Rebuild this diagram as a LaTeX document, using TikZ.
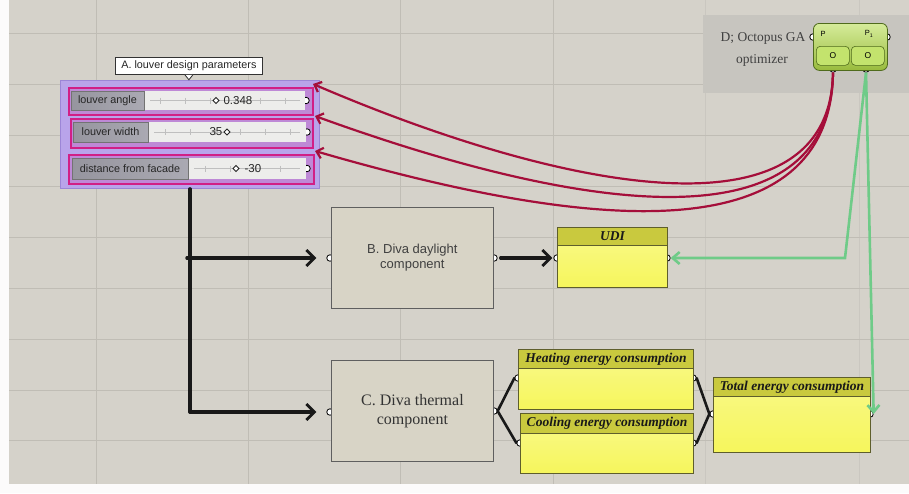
\documentclass[tikz,border=0pt]{standalone}
\usepackage{fontspec}
\setmainfont{Liberation Serif}
\setsansfont{Liberation Sans}
\usetikzlibrary{arrows.meta,calc}
\definecolor{bgc}{HTML}{D5D2CA}
\definecolor{gridc}{HTML}{C0BDB5}
\definecolor{grpAc}{HTML}{B9A4EA}
\definecolor{grpAline}{HTML}{9C86D6}
\definecolor{magA}{HTML}{D11F86}
\definecolor{lblc}{HTML}{A3A2AC}
\definecolor{trk}{HTML}{EDEDEB}
\definecolor{grpDc}{HTML}{C7C5BF}
\definecolor{octoc}{HTML}{B4DC48}
\definecolor{octoline}{HTML}{4F6B1C}
\definecolor{redw}{HTML}{A50E3A}
\definecolor{greenw}{HTML}{6FCB88}
\definecolor{hdrc}{HTML}{C9C93E}
\definecolor{pbody}{HTML}{F6F65C}
\definecolor{pline}{HTML}{5E5E2C}
\definecolor{boxc}{HTML}{D8D4C6}
\definecolor{boxline}{HTML}{5F5F5F}
\begin{document}
\begin{tikzpicture}[x=1pt,y=-1pt,
  port/.style={circle,draw=black,fill=white,line width=0.8pt,minimum size=6.5pt,inner sep=0pt},
  sliderbox/.style={draw=magA,line width=1.8pt,fill=grpAc!80!magA,anchor=north west,inner sep=0pt},
  lblbox/.style={left color=lblc!92!black,right color=lblc!92!white,draw=black!55,line width=0.5pt},
  lbl/.style={font=\sffamily\fontsize{10.8}{12}\selectfont,text=black!85},
  val/.style={font=\sffamily\fontsize{11.5}{12}\selectfont,text=black!85},
  grip/.style={draw=black!85,line width=1pt,fill=white},
  comp/.style={draw=boxline,line width=0.8pt,fill=boxc,anchor=north west,inner sep=0pt},
  phead/.style={draw=pline,line width=1pt,fill=hdrc,anchor=north west,inner sep=0pt,font=\bfseries\itshape\fontsize{13.5}{14}\selectfont,text=black!90},
  pbodyst/.style={draw=pline,line width=1pt,top color=pbody!80!white,bottom color=pbody,anchor=north west,inner sep=0pt},
  blk/.style={line width=3.2pt,black!90,line cap=round},
  blkarrow/.style={blk,-{Straight Barb[length=8pt,width=16pt,line width=2.8pt]}},
  thinw/.style={line width=2.6pt,black!90,line cap=round},
  redwire/.style={redw,line width=2.2pt,-{Straight Barb[length=6pt,width=11pt]}},
  greenwire/.style={greenw,line width=2.6pt,-{Straight Barb[length=7pt,width=12pt]}},
]
\useasboundingbox (0,0) rectangle (909,493);
% background
\fill[bgc] (0,0) rectangle (909,493);
\foreach \gx in {96,248,400,553} \draw[gridc,line width=0.8pt] (\gx,0) -- (\gx,484);
\foreach \gx in {705,859} \draw[gridc!50!bgc,line width=0.8pt] (\gx,0) -- (\gx,484);
\foreach \gy in {33,84,135,186,237,288,339,390,440} \draw[gridc,line width=0.8pt] (9,\gy) -- (909,\gy);
\fill[white!92!bgc] (0,0) rectangle (9,493);
\fill[white!92!bgc] (0,484) rectangle (909,493);

% ---------- A group ----------
\node[fill=grpAc,draw=grpAline,line width=0.8pt,anchor=north west,inner sep=0pt,minimum width=259pt,minimum height=108pt] (grpA) at (60,80) {};
\node[draw=black!80,fill=white,line width=0.8pt,anchor=north west,minimum width=147pt,minimum height=17pt,inner sep=0pt,font=\sffamily\fontsize{10.8}{11}\selectfont,text=black!85] (tipA) at (115,57) {A. louver design parameters};
\draw[black!80,line width=0.8pt,fill=white] ([xshift=-4pt]tipA.south) -- ([yshift=-5pt]tipA.south) -- ([xshift=4pt]tipA.south);

% slider 1
\node[sliderbox,minimum width=244pt,minimum height=27pt] (s1) at (68,87) {};
\node[port] (s1out) at (306,100.5) {};
\fill[trk] (144,91) rectangle (305,110);
\draw[black!25,line width=0.4pt] (150,100.5) -- (300,100.5);
\foreach \t in {160,185,...,300} \draw[black!25,line width=0.4pt] (\t,97.5) -- (\t,103.5);
\draw[lblbox] (71,91) rectangle (144,110);
\node[lbl] (s1l) at (107.5,100.5) {louver angle};
\draw[grip] (213,100.5) -- ++(3,-3) -- ++(3,3) -- ++(-3,3) -- cycle;
\node[val,anchor=west] (s1v) at (220,100.5) {0.348};

% slider 2
\node[sliderbox,minimum width=242pt,minimum height=29pt] (s2) at (70,118) {};
\node[port] (s2out) at (307,132) {};
\fill[trk] (148,122) rectangle (306,142);
\draw[black!25,line width=0.4pt] (154,132) -- (300,132);
\foreach \t in {165,190,...,300} \draw[black!25,line width=0.4pt] (\t,129) -- (\t,135);
\draw[lblbox] (73,122) rectangle (148,142);
\node[lbl] (s2l) at (110.5,132) {louver width};
\node[val,anchor=west] (s2v) at (206,132) {35};
\draw[grip] (224,132) -- ++(3,-3) -- ++(3,3) -- ++(-3,3) -- cycle;

% slider 3
\node[sliderbox,minimum width=245pt,minimum height=29pt] (s3) at (68,154) {};
\node[port] (s3out) at (307,168.5) {};
\fill[trk] (188,158) rectangle (306,179);
\draw[black!25,line width=0.4pt] (194,168.5) -- (300,168.5);
\foreach \t in {205,230,...,300} \draw[black!25,line width=0.4pt] (\t,165.5) -- (\t,171.5);
\draw[lblbox] (72,158) rectangle (188,179);
\node[lbl] (s3l) at (130,168.5) {distance from facade};
\draw[grip] (233,168.5) -- ++(3,-3) -- ++(3,3) -- ++(-3,3) -- cycle;
\node[val,anchor=west] (s3v) at (241,168.5) {-30};

% ---------- D group ----------
\node[fill=grpDc,anchor=north west,inner sep=0pt,minimum width=206pt,minimum height=78pt] (grpD) at (703,15) {};
\node[font=\fontsize{13.5}{14}\selectfont,text=black!75] (dt1) at (763,38) {D; Octopus GA};
\node[font=\fontsize{13.5}{14}\selectfont,text=black!75] (dt2) at (762,60) {optimizer};
\node[port] (oIn) at (813,37) {};
\node[port] (oOut) at (887,37) {};
\node[port] (oP) at (833,69) {};
\node[port] (oP1) at (866,69) {};
\node[draw=octoline,line width=0.8pt,top color=octoc!55!white,bottom color=octoc!85!black,rounded corners=6pt,anchor=north west,minimum width=74pt,minimum height=47pt,inner sep=0pt] (octo) at (813,23) {};
\node[draw=octoline,line width=0.6pt,fill=octoc!80!white,rounded corners=4pt,anchor=north west,minimum width=33pt,minimum height=19pt,inner sep=0pt,font=\sffamily\fontsize{8.5}{9}\selectfont] (cO1) at (816,46) {O};
\node[draw=octoline,line width=0.6pt,fill=octoc!80!white,rounded corners=4pt,anchor=north west,minimum width=33pt,minimum height=19pt,inner sep=0pt,font=\sffamily\fontsize{8.5}{9}\selectfont] (cO2) at (851,46) {O};
\node[font=\sffamily\fontsize{7.5}{8}\selectfont] (pl1) at (823,34) {P};
\node[font=\sffamily\fontsize{7.5}{8}\selectfont] (pl2) at (869,34) {P\textsubscript{1}};

% ---------- B component ----------
\node[port] (bIn) at (330,258) {};
\node[port] (bOut) at (494,258) {};
\node[comp,minimum width=162pt,minimum height=101pt] (B) at (331,207) {};
\node[font=\sffamily\fontsize{13}{15}\selectfont,text=black!75,align=center] (Btxt) at (B.center) {B. Diva daylight\\component};

% ---------- C component ----------
\node[port] (cIn) at (330,412) {};
\node[port] (cOut) at (494,411) {};
\node[comp,minimum width=162pt,minimum height=101pt] (C) at (331,360) {};
\node[font=\fontsize{16}{19}\selectfont,text=black!80,align=center] (Ctxt) at (C.center) {C. Diva thermal\\component};

% ---------- panels ----------
\node[port] (udiIn) at (557,258) {};
\node[port] (udiOut) at (667,258) {};
\node[phead,minimum width=110pt,minimum height=18pt] (udiH) at (557,227) {UDI};
\node[pbodyst,minimum width=110pt,minimum height=42pt] (udi) at (557,245) {};

\node[port] (heatIn) at (518,378) {};
\node[port] (heatOut) at (693,378) {};
\node[phead,minimum width=175pt,minimum height=19pt] (heatH) at (518,349) {Heating energy consumption};
\node[pbodyst,minimum width=175pt,minimum height=41pt] (heat) at (518,368) {};

\node[port] (coolIn) at (520,443) {};
\node[port] (coolOut) at (693,443) {};
\node[phead,minimum width=173pt,minimum height=20pt] (coolH) at (520,413) {Cooling energy consumption};
\node[pbodyst,minimum width=173pt,minimum height=40pt] (cool) at (520,433) {};

\node[port] (totIn) at (713,414) {};
\node[port] (totOut) at (870,414) {};
\node[phead,minimum width=157pt,minimum height=19pt] (totH) at (713,377) {Total energy consumption};
\node[pbodyst,minimum width=157pt,minimum height=56pt] (tot) at (713,396) {};

% ---------- black wires ----------
\coordinate (trunkBot) at (grpA.south |- cIn);
\coordinate (trunkMid) at (grpA.south |- bIn);
\draw[blk] (grpA.south) -- (trunkBot);
\draw[blkarrow,shorten >=10pt] ([xshift=-3pt]trunkMid) -- (bIn);
\draw[blkarrow,shorten >=10pt] (trunkBot) -- (cIn);
\draw[blkarrow,shorten <=3pt,shorten >=1pt] (bOut.east) -- (udiIn.west);
\draw[thinw] (cOut.east) -- (heatIn.west);
\draw[thinw] (cOut.east) -- (coolIn.west);
\draw[thinw] (heatOut.east) -- (totIn.west);
\draw[thinw] (coolOut.east) -- (totIn.west);

% ---------- red wires ----------
\coordinate (r1) at (313,84);
\coordinate (r2) at (315,116);
\coordinate (r3) at (315,151);
\draw[redwire] (oP.south) .. controls (830,245) and (560,190) .. (r1);
\draw[redwire] (oP.south) .. controls (830,257) and (560,205) .. (r2);
\draw[redwire] (oP.south) .. controls (830,265) and (560,222) .. (r3);

% ---------- green wires ----------
\coordinate (gbend) at (845,258);
\draw[greenwire] (oP1.south) -- (gbend) -- (udiOut.east);
\draw[greenwire] (oP1.south) -- (totOut.east);
\end{tikzpicture}
\end{document}
